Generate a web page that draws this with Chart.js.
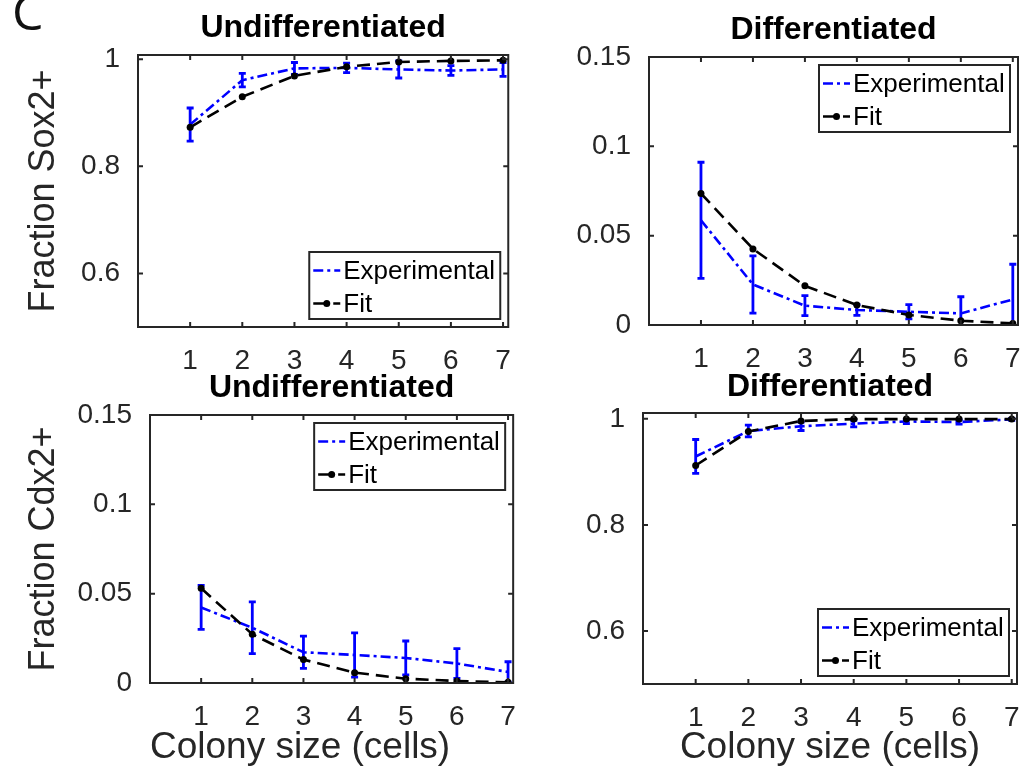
<!DOCTYPE html>
<html>
<head>
<meta charset="utf-8">
<script src="https://cdn.jsdelivr.net/npm/chart.js@4.4.1/dist/chart.umd.min.js"></script>
<style>
  html, body { margin: 0; padding: 0; background: #fff; width: 1022px; height: 766px; overflow: hidden; position: relative; }
  .panel { position: absolute; }
  #letter { position: absolute; left: 12px; top: -14px; font: 50px/50px 'Open Sans', sans-serif; color: #111; }
</style>
</head>
<body>
<div id="letter">C</div>
<div class="panel" style="left:0;top:0"><canvas id="sox2Undiff" width="520" height="383"></canvas></div>
<div class="panel" style="left:520px;top:0"><canvas id="sox2Diff" width="540" height="383"></canvas></div>
<div class="panel" style="left:0;top:360px"><canvas id="cdx2Undiff" width="525" height="410"></canvas></div>
<div class="panel" style="left:520px;top:360px"><canvas id="cdx2Diff" width="540" height="410"></canvas></div>
<script>
const colonySize = [1, 2, 3, 4, 5, 6, 7];
const xTicks = [1, 2, 3, 4, 5, 6, 7];
const yTicksHigh = [0.6, 0.8, 1];
const yTicksLow = [0, 0.05, 0.1, 0.15];

// Sox2+, undifferentiated
const sox2UndiffExp = [0.878, 0.961, 0.983, 0.984, 0.981, 0.979, 0.981];
const sox2UndiffErr = [0.031, 0.0125, 0.011, 0.009, 0.016, 0.009, 0.013];
const sox2UndiffFit = [0.873, 0.930, 0.969, 0.986, 0.995, 0.997, 0.998];

// Sox2+, differentiated
const sox2DiffExp = [0.0586, 0.0227, 0.0108, 0.0084, 0.0074, 0.0065, 0.0143];
const sox2DiffErr = [0.0325, 0.016, 0.0056, 0.003, 0.004, 0.0093, 0.0197];
const sox2DiffFit = [0.0736, 0.0426, 0.0219, 0.0112, 0.0056, 0.0024, 0.0009];

// Cdx2+, undifferentiated
const cdx2UndiffExp = [0.0423, 0.0309, 0.0172, 0.0157, 0.014, 0.0109, 0.0062];
const cdx2UndiffErr = [0.0123, 0.0145, 0.009, 0.0124, 0.0095, 0.0083, 0.0057];
const cdx2UndiffFit = [0.053, 0.0273, 0.0131, 0.0058, 0.0024, 0.0011, 0.0004];

// Cdx2+, differentiated
const cdx2DiffExp = [0.929, 0.977, 0.986, 0.991, 0.995, 0.994, 0.999];
const cdx2DiffErr = [0.032, 0.011, 0.008, 0.006, 0.004, 0.004, 0.002];
const cdx2DiffFit = [0.912, 0.976, 0.996, 0.9995, 0.9995, 0.9995, 0.9995];

const family = "'Liberation Sans', Arial, Helvetica, sans-serif";
const axisColor = '#262626';

// error bars under the lines, clipped to the axes box
const errorBars = {
  id: 'errorBars',
  beforeDatasetsDraw(chart) {
    const {ctx, chartArea: a, scales: {x, y}} = chart;
    chart.data.datasets.forEach(ds => {
      if (!ds.errors) return;
      ctx.save();
      ctx.beginPath();
      ctx.rect(a.left, a.top, a.width, a.height);
      ctx.clip();
      ctx.strokeStyle = ds.borderColor;
      ctx.lineWidth = 2.8;
      ctx.beginPath();
      ds.data.forEach((p, i) => {
        const px = x.getPixelForValue(p.x);
        const top = y.getPixelForValue(p.y + ds.errors[i]);
        const bot = y.getPixelForValue(p.y - ds.errors[i]);
        ctx.moveTo(px, top); ctx.lineTo(px, bot);
        ctx.moveTo(px - 3.5, top); ctx.lineTo(px + 3.5, top);
        ctx.moveTo(px - 3.5, bot); ctx.lineTo(px + 3.5, bot);
      });
      ctx.stroke();
      ctx.restore();
    });
  }
};

// matlab style box with inward ticks on all four sides
const boxTicks = {
  id: 'boxTicks',
  afterDatasetsDraw(chart) {
    const {ctx, chartArea: a, scales: {x, y}} = chart;
    const len = 5;
    ctx.save();
    ctx.strokeStyle = axisColor;
    ctx.lineWidth = 2;
    ctx.beginPath();
    x.ticks.forEach(t => {
      const px = x.getPixelForValue(t.value);
      ctx.moveTo(px, a.bottom); ctx.lineTo(px, a.bottom - len);
      ctx.moveTo(px, a.top); ctx.lineTo(px, a.top + len);
    });
    y.ticks.forEach(t => {
      const py = y.getPixelForValue(t.value);
      ctx.moveTo(a.left, py); ctx.lineTo(a.left + len, py);
      ctx.moveTo(a.right, py); ctx.lineTo(a.right - len, py);
    });
    ctx.stroke();
    ctx.strokeRect(a.left, a.top, a.width, a.height);
    ctx.restore();
  }
};

const boxLegend = {
  id: 'boxLegend',
  afterDraw(chart, args, opts) {
    const {ctx, chartArea: a} = chart;
    const w = 191, h = 67, inset = 8;
    const left = a.right - inset - w;
    const top = opts.where === 'south' ? a.bottom - inset - h : a.top + inset;
    ctx.save();
    ctx.fillStyle = '#fff';
    ctx.fillRect(left, top, w, h);
    ctx.strokeStyle = axisColor;
    ctx.lineWidth = 2;
    ctx.strokeRect(left, top, w, h);
    ctx.font = '26px ' + family;
    ctx.textBaseline = 'middle';
    chart.data.datasets.forEach((ds, i) => {
      const cy = top + 18.5 + i * 33;
      ctx.strokeStyle = ds.borderColor;
      ctx.lineWidth = ds.borderWidth;
      ctx.setLineDash(ds.borderDash || []);
      ctx.beginPath();
      ctx.moveTo(left + 4, cy);
      ctx.lineTo(left + 31, cy);
      ctx.stroke();
      ctx.setLineDash([]);
      if (ds.pointRadius > 0) {
        ctx.fillStyle = ds.pointBackgroundColor;
        ctx.beginPath();
        ctx.arc(left + 17.5, cy, ds.pointRadius, 0, Math.PI * 2);
        ctx.fill();
      }
      ctx.fillStyle = '#000';
      ctx.fillText(ds.label, left + 34, cy + 1);
    });
    ctx.restore();
  }
};

function pts(values) {
  return colonySize.map((c, i) => ({x: c, y: values[i]}));
}

function makePanel(id, cfg) {
  return new Chart(document.getElementById(id), {
    type: 'line',
    data: {
      datasets: [
        {
          label: 'Experimental',
          data: pts(cfg.exp),
          errors: cfg.err,
          borderColor: '#0000ff',
          borderWidth: 2.6,
          borderDash: [10, 4, 3, 4],
          pointRadius: 0,
          tension: 0,
          order: 1
        },
        {
          label: 'Fit',
          data: pts(cfg.fit),
          borderColor: '#000000',
          borderWidth: 2.6,
          borderDash: [13, 7],
          pointRadius: 3.5,
          pointBorderWidth: 0,
          pointBackgroundColor: '#000000',
          tension: 0,
          order: 0
        }
      ]
    },
    options: {
      responsive: false,
      animation: false,
      events: [],
      layout: {padding: {right: cfg.padRight}},
      plugins: {
        legend: {display: false},
        tooltip: {enabled: false},
        title: {
          display: true,
          fullSize: false,
          text: cfg.title,
          color: '#000',
          font: {family, size: 32, weight: 'bold'},
          padding: {top: cfg.titleTop, bottom: cfg.titleBottom}
        },
        boxLegend: {where: cfg.legendAt}
      },
      scales: {
        x: {
          type: 'linear',
          min: 0,
          max: 7.1,
          grid: {display: false},
          border: {display: false},
          afterBuildTicks: s => { s.ticks = xTicks.map(v => ({value: v})); },
          afterFit: s => { s.height = cfg.xHeight; },
          ticks: {padding: 9, color: axisColor, font: {family, size: 28}, maxRotation: 0, autoSkip: false},
          title: {
            display: !!cfg.xTitle,
            text: cfg.xTitle || '',
            align: cfg.xAlign || 'center',
            color: axisColor,
            font: {family, size: 37},
            padding: 0
          }
        },
        y: {
          min: cfg.yMin,
          max: cfg.yMax,
          grid: {display: false},
          border: {display: false},
          afterBuildTicks: s => { s.ticks = cfg.yTicks.map(v => ({value: v})); },
          afterFit: s => { s.width = cfg.yWidth; },
          ticks: {padding: 10, color: axisColor, font: {family, size: 28}, callback: v => String(+v.toFixed(3))},
          title: {
            display: !!cfg.yTitle,
            text: cfg.yTitle || '',
            color: axisColor,
            font: {family, size: 36},
            padding: {top: 22}
          }
        }
      }
    },
    plugins: [errorBars, boxTicks, boxLegend]
  });
}

makePanel('sox2Undiff', {
  title: 'Undifferentiated', yTitle: 'Fraction Sox2+',
  exp: sox2UndiffExp, err: sox2UndiffErr, fit: sox2UndiffFit,
  yMin: 0.5, yMax: 1.008, yTicks: yTicksHigh, legendAt: 'south',
  yWidth: 138, xHeight: 56, padRight: 7, titleTop: 8.8, titleBottom: 7.8
});
makePanel('sox2Diff', {
  title: 'Differentiated',
  exp: sox2DiffExp, err: sox2DiffErr, fit: sox2DiffFit,
  yMin: 0, yMax: 0.15, yTicks: yTicksLow, legendAt: 'north',
  yWidth: 129, xHeight: 58, padRight: 42, titleTop: 10.8, titleBottom: 7.8
});
makePanel('cdx2Undiff', {
  title: 'Undifferentiated', yTitle: 'Fraction Cdx2+', xTitle: 'Colony size (cells)', xAlign: 'start',
  exp: cdx2UndiffExp, err: cdx2UndiffErr, fit: cdx2UndiffFit,
  yMin: 0, yMax: 0.15, yTicks: yTicksLow, legendAt: 'north',
  yWidth: 150, xHeight: 87, padRight: 8, titleTop: 8.8, titleBottom: 7.8
});
makePanel('cdx2Diff', {
  title: 'Differentiated', xTitle: 'Colony size (cells)',
  exp: cdx2DiffExp, err: cdx2DiffErr, fit: cdx2DiffFit,
  yMin: 0.5, yMax: 1.011, yTicks: yTicksHigh, legendAt: 'south',
  yWidth: 123, xHeight: 86, padRight: 43, titleTop: 7.8, titleBottom: 6.8
});
</script>
</body>
</html>
